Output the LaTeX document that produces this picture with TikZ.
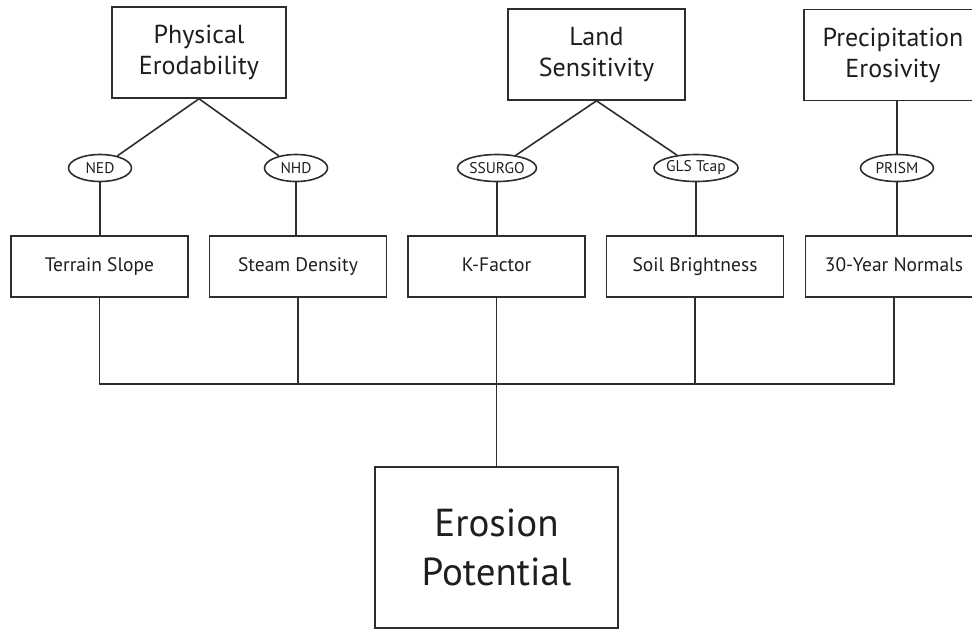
\documentclass[tikz,border=0pt]{standalone}
\usepackage{fontspec}
\setmainfont{PT Sans}
\usetikzlibrary{shapes.geometric}
\definecolor{ln}{HTML}{2E2E2E}
\definecolor{tx}{HTML}{1E1E1E}
\tikzset{
  topbox/.style={draw=ln, line width=1.6pt, rectangle, minimum height=91pt, align=center, inner sep=0pt, text=tx, font=\fontsize{26}{31}\selectfont},
  midbox/.style={draw=ln, line width=1.6pt, rectangle, minimum width=177pt, minimum height=61pt, inner sep=0pt, text=tx, font=\fontsize{19.5}{22}\selectfont},
  src/.style={draw=ln, line width=1.6pt, ellipse, minimum height=27pt, inner sep=0pt, text=tx, font=\fontsize{15.5}{17}\selectfont},
  bigbox/.style={draw=ln, line width=1.6pt, rectangle, minimum width=243pt, minimum height=161pt, align=center, inner sep=0pt, text=tx, font=\fontsize{39}{49}\selectfont},
  conn/.style={draw=ln, line width=1.6pt}
}
\begin{document}
\begin{tikzpicture}[x=1pt,y=-1pt]
\useasboundingbox (0,0) rectangle (972,630);
\begin{scope}
\clip (0,0) rectangle (972,630);
\node[topbox, minimum width=174pt] (phys) at (199,52.5) {Physical\\Erodability};
\node[topbox, minimum width=177pt] (land) at (596.5,54.5) {Land\\Sensitivity};
\node[topbox, minimum width=178pt] (prec) at (893,55) {Precipitation\\Erosivity};

\node[src, minimum width=63pt] (ned) at (100,168) {NED};
\node[src, minimum width=63pt] (nhd) at (296,168) {NHD};
\node[src, minimum width=79pt] (ssurgo) at (497,168) {SSURGO};
\node[src, minimum width=78pt] (gls) at (696,168) {GLS Tcap};
\node[src, minimum width=73pt] (prism) at (897,168) {PRISM};

\node[midbox] (terrain) at (99.5,266.5) {\vphantom{Ayg}Terrain Slope};
\node[midbox] (steam) at (298,266.5) {\vphantom{Ayg}Steam Density};
\node[midbox] (kf) at (496.5,266.5) {\vphantom{Ayg}K-Factor};
\node[midbox] (soil) at (695,266.5) {\vphantom{Ayg}Soil Brightness};
\node[midbox] (normals) at (894,266.5) {\vphantom{Ayg}30-Year Normals};

\node[bigbox] (eros) at (496.5,547.5) {Erosion\\Potential};

\coordinate (bus) at (0,384);

\draw[conn] (phys.south) -- (ned);
\draw[conn] (phys.south) -- (nhd);
\draw[conn] (land.south) -- (ssurgo);
\draw[conn] (land.south) -- (gls);
\draw[conn] (prism.north) -- (prism.north |- prec.south);

\draw[conn] (ned.south) -- (ned.south |- terrain.north);
\draw[conn] (nhd.south) -- (nhd.south |- steam.north);
\draw[conn] (ssurgo.south) -- (ssurgo.south |- kf.north);
\draw[conn] (gls.south) -- (gls.south |- soil.north);
\draw[conn] (prism.south) -- (prism.south |- normals.north);

\draw[conn] (terrain.south) -- (terrain.south |- bus) -| (normals.south);
\draw[conn] (steam.south) -- (steam.south |- bus);
\draw[conn] (kf.south) -- (kf.south |- bus);
\draw[conn] (soil.south) -- (soil.south |- bus);
\draw[conn] (kf.south |- bus) -- (eros.north);
\end{scope}
\end{tikzpicture}
\end{document}
